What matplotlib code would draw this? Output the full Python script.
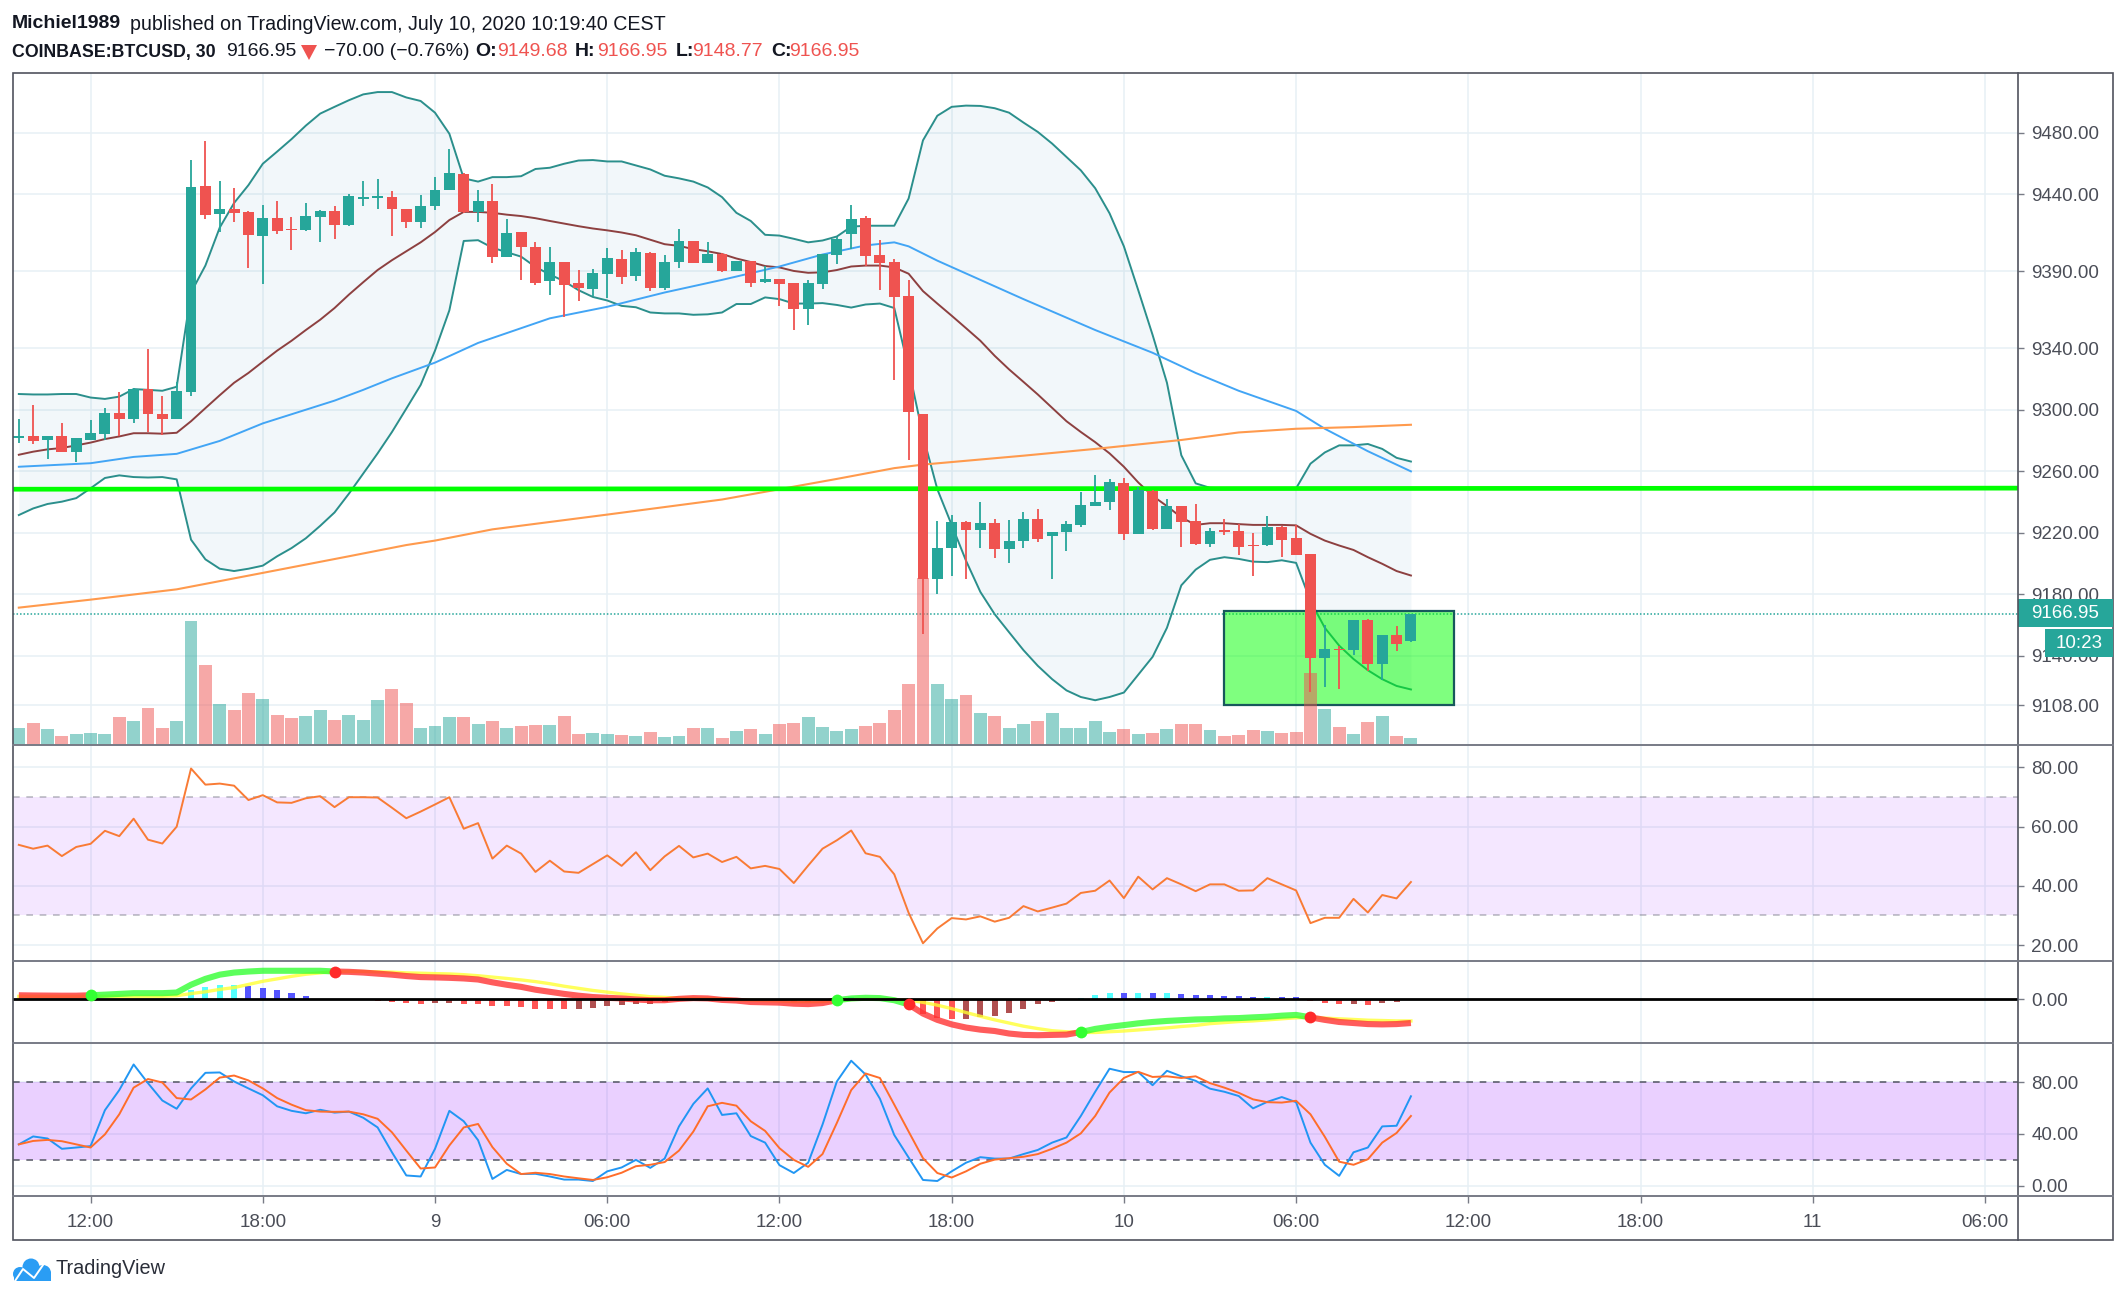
import matplotlib
matplotlib.use('Agg')
import matplotlib.pyplot as plt
import matplotlib.patches as mpatches
import matplotlib.transforms as mtransforms
import numpy as np

plt.rcParams['font.family'] = ['Liberation Sans', 'DejaVu Sans']

W, H = 2126, 1298
TEAL = '#26a69a'
RED = '#ef5350'
TEXT = '#4a4d57'
GRID = '#e7f0f5'
SEP = '#787b86'

# 30 minute candles, first bar is 09:30 on the 8th
opens = [9281.8, 9282.6, 9280.0, 9282.6, 9272.7, 9280.3, 9284.1, 9298.0, 9294.0, 9313.7,
         9296.9, 9294.0, 9311.7, 9445.4, 9427.4, 9430.3, 9428.3, 9413.2, 9424.5, 9417.2,
         9416.9, 9425.4, 9429.1, 9419.8, 9437.0, 9437.9, 9438.2, 9430.3, 9422.2, 9432.6,
         9443.1, 9453.0, 9428.6, 9435.5, 9399.2, 9415.5, 9405.9, 9383.5, 9396.3, 9382.3,
         9378.3, 9388.4, 9398.0, 9386.7, 9402.1, 9378.8, 9396.3, 9410.0, 9395.4, 9400.9,
         9389.9, 9396.9, 9382.9, 9385.0, 9382.3, 9365.2, 9382.0, 9400.6, 9414.3, 9424.5,
         9400.4, 9396.0, 9373.6, 9297.5, 9190.2, 9209.9, 9226.8, 9221.9, 9226.5, 9209.4,
         9214.6, 9228.8, 9218.1, 9220.7, 9225.1, 9237.3, 9239.9, 9252.4, 9219.3, 9247.2,
         9222.5, 9237.6, 9227.4, 9212.9, 9221.6, 9221.3, 9212.0, 9212.0, 9223.6, 9216.9,
         9205.9, 9138.7, 9144.6, 9143.7, 9163.4, 9134.4, 9153.6, 9149.68]
highs = [9294.0, 9303.3, 9282.6, 9291.3, 9281.8, 9293.4, 9301.2, 9311.4, 9314.3, 9339.3,
         9308.8, 9318.1, 9462.3, 9474.8, 9448.6, 9444.0, 9429.1, 9433.2, 9435.5, 9425.1,
         9434.4, 9430.0, 9432.6, 9440.2, 9448.9, 9450.1, 9441.9, 9430.6, 9439.9, 9451.5,
         9469.8, 9453.6, 9442.8, 9446.9, 9424.2, 9415.8, 9409.1, 9405.9, 9396.3, 9390.8,
         9391.6, 9405.0, 9403.8, 9405.0, 9402.7, 9400.4, 9417.8, 9410.0, 9409.1, 9401.8,
         9396.9, 9396.9, 9393.7, 9385.0, 9382.6, 9384.1, 9400.9, 9412.3, 9432.9, 9425.7,
         9410.5, 9397.7, 9384.1, 9297.5, 9227.4, 9231.8, 9227.4, 9240.2, 9229.1, 9228.6,
         9233.8, 9235.5, 9220.7, 9227.4, 9246.3, 9257.6, 9254.7, 9255.3, 9249.8, 9247.7,
         9241.9, 9237.6, 9238.7, 9222.8, 9229.1, 9225.6, 9219.8, 9230.9, 9224.2, 9225.1,
         9206.2, 9159.7, 9146.6, 9163.4, 9164.0, 9153.8, 9159.1, 9166.95]
lows = [9278.3, 9277.4, 9267.8, 9272.4, 9266.1, 9280.0, 9280.3, 9282.6, 9291.3, 9285.5,
        9283.8, 9294.0, 9308.8, 9424.2, 9415.5, 9421.9, 9392.2, 9382.0, 9414.0, 9403.6,
        9416.1, 9409.1, 9411.1, 9419.3, 9432.3, 9430.3, 9412.9, 9418.1, 9418.1, 9430.0,
        9443.1, 9428.0, 9422.2, 9395.4, 9399.2, 9384.4, 9381.2, 9374.8, 9360.2, 9370.4,
        9373.6, 9372.7, 9382.0, 9383.8, 9377.1, 9377.7, 9392.2, 9395.4, 9395.1, 9389.3,
        9389.9, 9379.7, 9382.6, 9367.2, 9351.8, 9355.0, 9378.3, 9394.8, 9404.7, 9393.7,
        9377.7, 9319.3, 9267.5, 9154.4, 9180.0, 9192.2, 9190.2, 9209.9, 9203.6, 9200.4,
        9209.9, 9213.7, 9190.2, 9208.2, 9223.6, 9237.3, 9235.0, 9215.5, 9219.3, 9221.6,
        9222.2, 9210.5, 9212.3, 9210.5, 9218.7, 9205.3, 9191.6, 9211.1, 9204.1, 9205.6,
        9116.6, 9119.8, 9118.7, 9140.8, 9130.0, 9124.2, 9143.1, 9148.77]
closes = [9282.6, 9279.4, 9282.6, 9272.7, 9281.5, 9284.7, 9298.0, 9294.0, 9313.7, 9296.9,
          9294.0, 9312.0, 9444.8, 9426.8, 9430.3, 9427.7, 9413.7, 9424.5, 9416.4, 9416.6,
          9425.7, 9429.4, 9420.1, 9438.7, 9438.2, 9438.7, 9430.6, 9422.2, 9432.6, 9443.1,
          9453.6, 9428.3, 9435.5, 9399.2, 9415.2, 9405.9, 9382.6, 9396.3, 9381.2, 9379.1,
          9388.7, 9398.9, 9386.4, 9402.4, 9379.4, 9396.3, 9410.0, 9395.4, 9400.9, 9389.9,
          9396.9, 9382.6, 9385.0, 9382.0, 9365.2, 9382.3, 9400.9, 9410.8, 9423.9, 9400.1,
          9395.1, 9373.0, 9298.3, 9190.2, 9209.9, 9226.8, 9221.9, 9226.2, 9209.4, 9214.6,
          9228.8, 9215.8, 9220.7, 9225.4, 9238.2, 9240.2, 9252.7, 9219.3, 9247.7, 9222.5,
          9237.3, 9227.1, 9212.9, 9221.3, 9220.4, 9210.5, 9211.1, 9223.9, 9215.2, 9205.6,
          9138.7, 9144.3, 9143.7, 9163.4, 9134.4, 9153.6, 9147.7, 9166.95]
volumes = [39, 49, 35, 20, 25, 26, 24, 62, 53, 82, 39, 53, 277, 179, 91, 78, 116, 103, 67, 60,
           65, 78, 57, 67, 57, 100, 126, 94, 39, 42, 63, 62, 46, 54, 37, 42, 44, 44, 65, 24,
           26, 24, 22, 20, 28, 18, 21, 37, 37, 15, 31, 35, 24, 46, 49, 62, 41, 31, 35, 42,
           49, 78, 136, 375, 136, 103, 112, 72, 65, 39, 48, 54, 71, 39, 37, 53, 28, 35, 24, 26,
           35, 48, 48, 33, 20, 23, 33, 31, 26, 28, 162, 80, 41, 24, 51, 64, 21, 15]

bb_upper = [9310.2, 9309.9, 9309.9, 9310.2, 9310.2, 9307.9, 9307.0, 9308.5, 9313.4, 9312.9,
            9312.3, 9314.9, 9376.2, 9393.7, 9418.4, 9434.4, 9446.0, 9459.9, 9467.8, 9475.9,
            9484.7, 9492.5, 9496.9, 9501.2, 9505.0, 9506.5, 9506.5, 9503.0, 9500.7, 9493.1,
            9479.4, 9450.4, 9448.3, 9451.2, 9451.2, 9451.8, 9456.5, 9457.3, 9459.9, 9462.0,
            9462.3, 9461.4, 9461.4, 9458.8, 9456.2, 9452.1, 9450.4, 9448.3, 9444.5, 9438.2,
            9428.0, 9422.7, 9413.7, 9413.2, 9411.1, 9408.8, 9410.0, 9412.6, 9419.0, 9419.6,
            9419.6, 9419.6, 9437.3, 9475.1, 9491.1, 9496.9, 9497.7, 9497.5, 9496.0, 9493.1,
            9486.7, 9480.6, 9473.0, 9464.3, 9455.6, 9444.0, 9427.7, 9406.2, 9377.7, 9348.6,
            9317.5, 9270.4, 9252.1, 9249.2, 9248.9, 9248.9, 9248.9, 9248.9, 9248.9, 9248.9,
            9264.9, 9272.2, 9276.8, 9276.8, 9277.7, 9274.5, 9268.7, 9266.3]
bb_lower = [9231.5, 9235.8, 9238.7, 9240.2, 9242.5, 9248.9, 9255.6, 9257.3, 9256.2, 9255.9,
            9256.2, 9254.7, 9215.5, 9202.7, 9196.6, 9195.1, 9196.6, 9198.6, 9204.7, 9210.0,
            9216.4, 9224.5, 9233.2, 9245.4, 9258.5, 9271.6, 9285.5, 9300.7, 9316.1, 9338.4,
            9364.6, 9409.7, 9410.2, 9405.3, 9402.4, 9399.5, 9392.8, 9387.9, 9383.5, 9377.7,
            9373.3, 9371.0, 9367.5, 9366.6, 9363.2, 9362.6, 9362.6, 9361.7, 9362.0, 9363.2,
            9368.7, 9368.7, 9373.0, 9371.9, 9369.0, 9369.0, 9369.3, 9368.1, 9366.4, 9368.4,
            9369.0, 9366.1, 9326.8, 9283.2, 9248.3, 9225.1, 9201.8, 9181.5, 9167.0, 9155.3,
            9143.7, 9133.5, 9124.8, 9117.5, 9113.2, 9111.1, 9113.2, 9116.1, 9127.7, 9139.3,
            9158.2, 9185.8, 9196.0, 9202.4, 9204.1, 9203.0, 9201.2, 9200.9, 9202.1, 9200.4,
            9175.6, 9158.2, 9146.6, 9137.9, 9130.6, 9124.8, 9120.4, 9118.1]
bb_basis = [9270.7, 9272.7, 9274.2, 9275.1, 9276.8, 9278.6, 9280.9, 9282.6, 9284.7, 9284.7,
            9284.4, 9285.0, 9292.5, 9301.0, 9309.4, 9317.5, 9323.9, 9331.2, 9338.4, 9344.8,
            9351.8, 9358.5, 9366.1, 9374.8, 9382.9, 9390.8, 9397.2, 9403.0, 9408.8, 9415.5,
            9423.3, 9428.6, 9428.6, 9428.0, 9426.8, 9425.9, 9424.5, 9422.7, 9421.0, 9419.3,
            9417.8, 9416.6, 9415.2, 9413.4, 9410.5, 9407.6, 9406.5, 9404.4, 9403.0, 9401.2,
            9398.3, 9396.0, 9393.4, 9392.5, 9390.2, 9389.0, 9389.3, 9390.8, 9393.1, 9393.7,
            9393.7, 9392.5, 9388.4, 9377.1, 9369.0, 9361.1, 9353.0, 9344.8, 9335.0, 9326.2,
            9318.1, 9309.9, 9301.2, 9292.5, 9285.5, 9278.9, 9271.6, 9262.9, 9252.7, 9244.0,
            9237.3, 9230.0, 9225.1, 9226.2, 9226.2, 9225.6, 9225.1, 9225.1, 9225.1, 9224.8,
            9219.3, 9214.9, 9211.7, 9208.8, 9204.1, 9199.8, 9195.1, 9192.2]

ema_mid_idx = [0, 5, 8, 11, 14, 17, 22, 24, 26, 29, 32, 35, 37, 41, 45, 49, 53, 56, 59, 61, 62,
               64, 70, 75, 79, 82, 85, 89, 91, 94, 97]
ema_mid = [9262.9, 9265.2, 9269.3, 9271.3, 9279.7, 9291.1, 9305.9, 9312.9, 9320.4, 9330.6,
           9343.4, 9353.0, 9359.4, 9366.9, 9376.2, 9384.4, 9393.1, 9400.9, 9406.8, 9408.8,
           9406.2, 9396.9, 9371.9, 9351.8, 9337.0, 9323.9, 9312.3, 9299.2, 9287.6, 9273.0, 9259.9]
ema_slow_idx = [0, 5, 11, 17, 23, 27, 29, 33, 41, 49, 53, 57, 61, 63, 70, 75, 81, 85, 89, 93, 97]
ema_slow = [9171.3, 9176.5, 9183.2, 9193.9, 9204.7, 9212.0, 9214.9, 9222.2, 9231.8, 9241.6,
            9248.3, 9255.0, 9262.0, 9264.3, 9270.1, 9274.5, 9280.3, 9285.2, 9287.6, 9288.7, 9290.2]

rsi = [53.85, 52.55, 53.6, 50.06, 53.14, 54.2, 58.6, 56.8, 62.7, 55.6, 54.3, 60.0, 79.65, 74.2,
       74.56, 73.85, 69.0, 70.65, 68.2, 68.05, 69.6, 70.3, 66.6, 69.95, 69.95, 69.85, 66.4, 62.85,
       65.1, 67.5, 69.95, 59.3, 61.2, 49.2, 53.6, 50.9, 44.7, 48.5, 44.85, 44.4, 47.35, 50.3, 46.75,
       51.35, 45.3, 49.95, 53.5, 49.6, 50.9, 48.05, 49.8, 45.9, 46.75, 45.7, 40.95, 46.85, 52.55,
       55.4, 58.7, 51.0, 49.8, 43.9, 30.9, 20.6, 25.6, 29.1, 28.65, 29.7, 27.9, 29.2, 33.15, 31.35,
       32.65, 34.0, 37.6, 38.35, 41.8, 35.85, 43.1, 38.8, 42.6, 40.5, 38.2, 40.5, 40.5, 38.35, 38.45,
       42.6, 40.5, 38.45, 27.4, 29.2, 29.2, 35.6, 31.0, 36.9, 35.75, 41.3]

macd = [3.7, 3.5, 3.4, 3.3, 3.3, 3.7, 4.3, 5.0, 5.7, 5.7, 5.7, 6.3, 13.7, 19.3, 23.3, 25.3, 26.3,
        27.0, 27.0, 27.0, 27.0, 27.0, 26.3, 26.0, 25.3, 24.3, 23.3, 22.0, 21.0, 20.7, 20.3, 19.7,
        18.7, 16.0, 13.7, 11.7, 9.0, 7.0, 5.0, 3.3, 2.0, 1.3, 0.7, -0.3, -1.0, -1.0, 0.3, 1.0, 0.7,
        -0.7, -1.3, -2.7, -3.0, -3.3, -4.3, -4.7, -3.7, -1.0, 0.7, 1.3, 1.0, -1.0, -5.0, -13.7,
        -19.7, -24.0, -27.0, -29.0, -30.3, -32.7, -34.0, -34.3, -34.0, -33.7, -31.3, -28.3, -26.3,
        -24.7, -23.0, -21.7, -20.7, -20.0, -19.3, -19.0, -18.3, -18.0, -17.3, -16.7, -15.7, -15.0,
        -17.3, -19.7, -21.7, -22.7, -23.7, -24.0, -23.7, -22.7]
macd_signal = [2.7, 2.7, 2.7, 2.7, 2.7, 2.7, 2.7, 2.7, 2.7, 2.7, 2.7, 3.3, 5.3, 7.0, 9.3, 11.0, 14.0,
               17.0, 19.3, 21.7, 23.7, 25.0, 26.3, 26.3, 26.3, 26.0, 25.7, 25.0, 24.7, 24.3, 24.0,
               23.3, 22.3, 21.0, 19.7, 18.3, 16.7, 14.7, 12.3, 10.3, 8.3, 6.7, 5.0, 3.7, 2.3, 1.7,
               1.0, 0.7, 0.7, 0.3, -0.7, -1.0, -1.3, -1.7, -2.3, -2.3, -2.3, -1.0, -0.3, 0.0, 0.0,
               -0.3, -1.0, -3.0, -5.7, -9.0, -12.7, -16.3, -19.7, -22.7, -25.7, -28.0, -30.0, -31.0,
               -31.7, -31.7, -31.0, -30.3, -29.3, -28.3, -27.3, -26.0, -25.0, -23.3, -22.3, -21.3,
               -20.7, -19.7, -18.7, -17.7, -17.3, -18.0, -18.7, -19.3, -20.0, -20.3, -20.7, -20.7]
macd_hist = [0, 0, 0, 0, 0, 0, 0, 0, 0, 0, 0, 0, 8.3, 11.7, 13.7, 13.8, 12.3, 10.7, 8.3, 5.7, 3.0,
             0, 0, 0, 0, -2.0, -3.0, -3.7, -4.3, -3.7, -3.6, -4.7, -4.8, -6.7, -6.8, -7.3, -9.0,
             -9.1, -9.7, -9.0, -8.0, -6.7, -6.0, -5.0, -4.7, -3.0, -1.0, -1.0, 0, 0, 0, 0, 0, -1.0,
             -3.0, -3.0, -1.0, 1.0, 2.0, 1.0, 0, 0, -1.0, -14.0, -18.0, -19.3, -19.2, -17.0, -15.7,
             -13.0, -9.0, -5.0, -2.7, -0.7, 0.7, 3.7, 6.3, 5.7, 6.3, 6.2, 6.3, 5.3, 3.7, 3.6, 2.7,
             2.6, 2.0, 2.3, 2.2, 1.7, -1.7, -3.3, -5.0, -4.3, -5.3, -3.7, -3.0, 0]
macd_cross_idx = [5, 22, 57, 62, 74, 90]

stoch_k = [31.95, 38.1, 36.5, 28.5, 29.5, 30.6, 58.5, 74.1, 94.0, 79.5, 66.0, 59.6, 75.4, 87.5, 87.8,
           80.8, 75.4, 70.1, 61.5, 58.0, 56.1, 58.8, 56.6, 57.4, 52.6, 45.1, 25.8, 7.8, 7.0, 28.5,
           58.0, 49.9, 35.2, 5.1, 12.1, 8.9, 9.1, 7.0, 4.6, 4.6, 3.5, 11.0, 14.0, 19.9, 13.7, 20.9,
           45.9, 63.4, 75.4, 54.8, 56.1, 38.4, 33.3, 15.8, 9.7, 17.7, 47.3, 80.8, 96.9, 86.2, 67.4,
           39.2, 21.7, 4.3, 3.5, 11.0, 17.7, 22.0, 20.9, 20.9, 24.4, 27.6, 33.3, 37.3, 54.0, 72.8,
           90.7, 88.1, 88.1, 77.9, 89.1, 84.8, 81.3, 75.2, 72.8, 69.5, 59.9, 65.0, 68.7, 64.7, 33.3,
           16.1, 7.5, 25.8, 29.5, 45.9, 46.4, 69.3]
stoch_d = [31.95, 34.6, 35.4, 34.4, 31.95, 29.5, 39.7, 55.3, 76.0, 82.7, 80.0, 67.9, 66.8, 74.6, 83.8,
           85.4, 81.6, 75.4, 67.9, 62.8, 58.5, 57.4, 57.2, 57.4, 55.3, 51.8, 41.3, 27.1, 13.2, 14.0,
           31.1, 45.1, 47.8, 29.8, 16.9, 8.9, 9.9, 8.9, 7.0, 5.6, 4.3, 6.4, 9.9, 15.0, 16.1, 18.2,
           27.1, 41.9, 61.5, 64.2, 62.0, 49.9, 42.4, 29.0, 19.9, 14.5, 24.4, 48.6, 74.1, 87.0, 83.5,
           62.8, 41.9, 21.2, 9.7, 6.2, 11.0, 16.9, 20.1, 21.2, 22.3, 24.4, 28.5, 33.3, 40.5, 54.0,
           72.2, 83.5, 88.3, 84.3, 84.8, 83.5, 84.8, 79.5, 76.0, 72.0, 66.9, 64.7, 64.4, 65.8, 55.3,
           37.8, 18.5, 16.1, 20.4, 33.3, 40.8, 54.0]

# tick positions in bars
time_ticks = [5, 17, 29, 41, 53, 65, 77, 89, 101, 113, 125, 137]
time_labels = ['12:00', '18:00', '9', '06:00', '12:00', '18:00', '10', '06:00', '12:00', '18:00', '11', '06:00']
price_ticks = [9108, 9140, 9180, 9220, 9260, 9300, 9340, 9390, 9440, 9480]
rsi_ticks = [20, 40, 60, 80]
stoch_ticks = [0, 40, 80]

support_x = [-0.44, 139.3]
support_y = [9248.3, 9249.0]
box_x = [84, 100]
box_y = [9108.2, 9169.0]
last_price = closes[-1]

idx = np.arange(len(closes))
x_lim = (-0.44, 139.3)
AX_X0, AX_X1 = 12.5, 2018


def pane(y0, y1, ylim):
    a = fig.add_axes([AX_X0 / W, 1 - y1 / H, (AX_X1 - AX_X0) / W, (y1 - y0) / H])
    a.set_xlim(*x_lim)
    a.set_ylim(*ylim)
    for s in a.spines.values():
        s.set_visible(False)
    a.set_axisbelow(True)
    a.yaxis.tick_right()
    a.tick_params(axis='y', length=4.5, width=1, color=SEP, labelcolor=TEXT, labelsize=13.5, pad=5)
    a.set_xticks(time_ticks)
    a.tick_params(axis='x', length=0, labelbottom=False)
    a.grid(axis='x', color=GRID, lw=1.1)
    a.grid(axis='y', color=GRID, lw=1.1)
    return a


fig = plt.figure(figsize=(W / 100, H / 100), dpi=100, facecolor='white')

# main pane
ax = pane(73, 745, (9082.0, 9518.9))
ax.set_yticks(price_ticks)
ax.set_yticklabels([f'{p:.2f}' for p in price_ticks])
ax.fill_between(idx, bb_lower, bb_upper, color='#5f9fc0', alpha=0.08, lw=0, zorder=1)
ax.plot(idx, bb_upper, color='#2b8f8c', lw=1.4, zorder=2)
ax.plot(idx, bb_lower, color='#2b8f8c', lw=1.4, zorder=2)
ax.plot(idx, bb_basis, color='#8d4040', lw=1.4, zorder=2)
ax.plot(ema_mid_idx, ema_mid, color='#42a5f5', lw=1.4, zorder=2)
ax.plot(ema_slow_idx, ema_slow, color='#ff9a4d', lw=1.5, zorder=2)
ax.plot(support_x, support_y, color='#00ff00', lw=3.4, zorder=2.2, solid_capstyle='butt')
ax.axhline(last_price, color=TEAL, lw=1.1, ls=(0, (1, 1.3)), zorder=2.1)
ax.add_patch(mpatches.Rectangle((box_x[0], box_y[0]), box_x[1] - box_x[0], box_y[1] - box_y[0],
                                facecolor=(0, 1, 0, 0.5), edgecolor='#17585c', lw=1.6, zorder=2.5))

up = np.array(closes) >= np.array(opens)
colors = [TEAL if u else RED for u in up]

# volume has its own scale, 1505 units is the full pane height
vol_trans = mtransforms.blended_transform_factory(
    ax.transData, mtransforms.Affine2D().scale(1, 1 / 1505) + ax.transAxes)
ax.bar(idx, volumes, width=0.9, color=colors, alpha=0.5, transform=vol_trans, zorder=3, lw=0)

ax.vlines(idx, lows, highs, colors=colors, lw=1.3, zorder=5)
body_low = np.minimum(opens, closes)
body_h = np.maximum(np.abs(np.array(closes) - np.array(opens)), 0.7)
ax.bar(idx, body_h, bottom=body_low, width=0.76, color=colors, lw=0, zorder=6)

# RSI
ax_rsi = pane(745, 961, (14.6, 87.6))
ax_rsi.set_yticks(rsi_ticks)
ax_rsi.set_yticklabels([f'{v:.2f}' for v in rsi_ticks])
ax_rsi.axhspan(30, 70, color='#9915ff', alpha=0.1, lw=0, zorder=1)
for lvl in (30, 70):
    ax_rsi.axhline(lvl, color='#787b86', alpha=0.5, lw=1.2, ls=(0, (4, 4)), zorder=2)
ax_rsi.plot(idx, rsi, color='#f97b35', lw=1.4, zorder=3)

# MACD
ax_macd = pane(961, 1043, (-41.7, 36.3))
ax_macd.set_yticks([0])
ax_macd.set_yticklabels(['0.00'])
ax_macd.grid(axis='y', visible=False)
hist_colors = []
for i, v in enumerate(macd_hist):
    prev = macd_hist[i - 1] if i else 0
    if v >= 0:
        hist_colors.append('#55ffff' if v > prev else '#5555ff')
    else:
        hist_colors.append('#ff5555' if v <= prev else '#b05050')
ax_macd.bar(idx, macd_hist, width=0.42, color=hist_colors, lw=0, zorder=2)
ax_macd.plot(idx, macd_signal, color='#ffff33', lw=2.4, alpha=0.8, zorder=3)
edges = [0] + macd_cross_idx + [len(idx) - 1]
seg_colors = ['#ff3333', '#33ff33']
for k in range(len(edges) - 1):
    a, b = edges[k], edges[k + 1]
    ax_macd.plot(idx[a:b + 1], macd[a:b + 1], color=seg_colors[k % 2], lw=4.4, alpha=0.8,
                 solid_capstyle='butt', zorder=4)
for k, c in enumerate(macd_cross_idx):
    ax_macd.plot(c, macd[c], 'o', ms=8.5, mew=0, color='#33ff33' if k % 2 == 0 else '#ff2a2a', zorder=5)
ax_macd.axhline(0, color='black', lw=2, zorder=4.5)

# Stochastic
ax_st = pane(1043, 1196, (-(1196 - 1185.5) / 1.288, 80 + (1082.5 - 1043) / 1.288))
ax_st.set_yticks(stoch_ticks)
ax_st.set_yticklabels([f'{v:.2f}' for v in stoch_ticks])
ax_st.axhspan(20, 80, color='#9915ff', alpha=0.2, lw=0, zorder=1)
for lvl in (20, 80):
    ax_st.axhline(lvl, color='#50535e', alpha=0.9, lw=1.2, ls=(0, (4, 4)), zorder=2)
ax_st.plot(idx, stoch_k, color='#2196f3', lw=1.4, zorder=3)
ax_st.plot(idx, stoch_d, color='#ff6d2a', lw=1.4, zorder=4)
ax_st.set_xticklabels(time_labels)
ax_st.tick_params(axis='x', length=5, width=1, color=SEP, labelbottom=True, labelcolor=TEXT,
                  labelsize=13.5, pad=8)

# overlay in pixels: frame, header, price labels, logo
ov = fig.add_axes([0, 0, 1, 1], facecolor='none', zorder=10)
ov.set_xlim(0, W)
ov.set_ylim(H, 0)
ov.axis('off')

ov.add_patch(mpatches.Rectangle((12.5, 73), 2113 - 12.5, 1240 - 73, fill=False, edgecolor='#50535e', lw=1.2))
ov.plot([AX_X1, AX_X1], [73, 1240], color='#50535e', lw=1.2)
for yy in (745, 961, 1043, 1196):
    ov.plot([12.5, 2113], [yy, yy], color=SEP, lw=1.4)

# last price and countdown tags
y_last = 599
ov.add_patch(mpatches.Rectangle((AX_X1, y_last), 2113 - AX_X1, 28, color=TEAL, lw=0))
ov.text(2031, y_last + 14.5, f'{last_price:.2f}', color='white', fontsize=13.5, va='center')
ov.add_patch(mpatches.Rectangle((2045, 629), 2113 - 2045, 28, color=TEAL, lw=0))
ov.text(2079, 643.5, '10:23', color='white', fontsize=13.5, va='center', ha='center')

BLACK = '#131722'
ov.text(11.5, 24, 'Michiel1989', color=BLACK, fontsize=14, fontweight='bold', va='center')
ov.text(130, 24, 'published on TradingView.com, July 10, 2020 10:19:40 CEST', color=BLACK, fontsize=14.1, va='center')

ov.text(11.5, 52, 'COINBASE:BTCUSD, 30', color=BLACK, fontsize=12.8, fontweight='bold', va='center')
ov.text(226, 52, f'{last_price:.2f}', color=BLACK, fontsize=14, va='center')
ov.add_patch(mpatches.Polygon([(301, 45), (317, 45), (309, 60)], color=RED, lw=0))
ov.text(324, 52, '\u221270.00 (\u22120.76%)', color=BLACK, fontsize=14, va='center')
ohlc = [('O:', 475, opens[-1], 497), ('H:', 575, highs[-1], 597), ('L:', 676, lows[-1], 692), ('C:', 771, closes[-1], 789)]
for lab, lx, val, vx in ohlc:
    ov.text(lx, 52, lab, color=BLACK, fontsize=14, fontweight='bold', va='center')
    ov.text(vx, 52, f'{val:.2f}', color=RED, fontsize=14, va='center')

# logo
BLUE = '#2a9df4'
for cx, cy, r in [(20, 1274, 7), (31, 1267, 8.5), (43, 1273, 8)]:
    ov.add_patch(mpatches.Circle((cx, cy), r, color=BLUE, lw=0))
ov.add_patch(mpatches.Rectangle((14, 1272), 37, 9, color=BLUE, lw=0))
ov.plot([15, 23, 34, 43], [1281, 1269, 1278, 1265], color='white', lw=1.4)
ov.text(56, 1269, 'TradingView', color='#2a2e39', fontsize=14.3, va='center')

fig.savefig('out.png', dpi=100)
